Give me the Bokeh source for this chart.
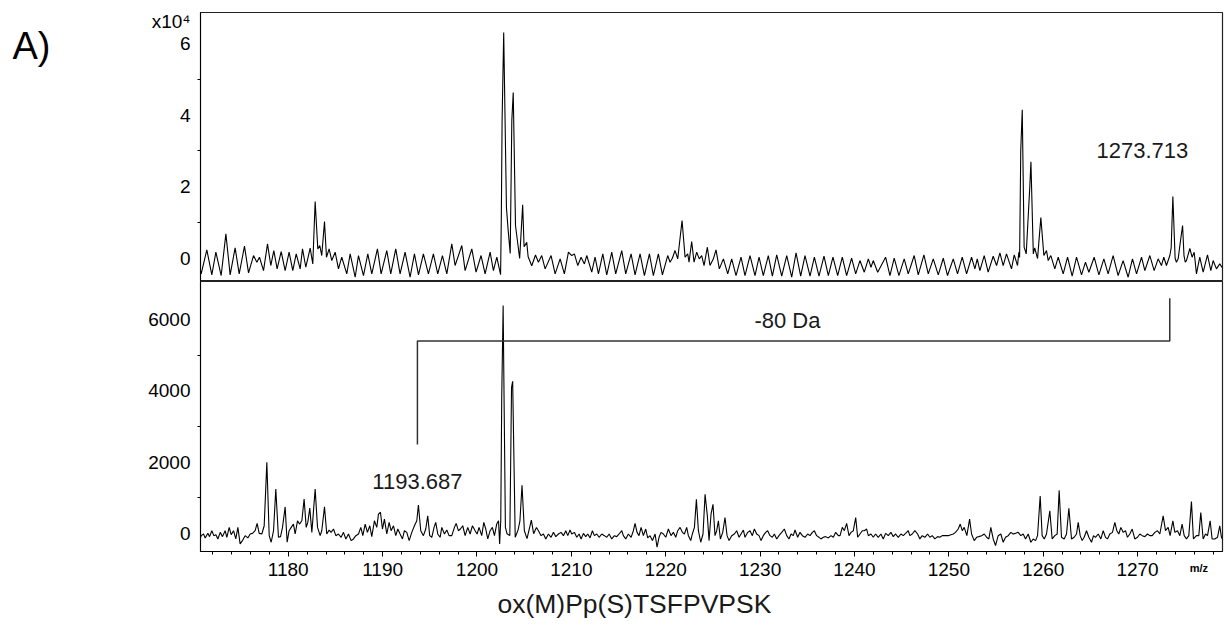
from bokeh.plotting import figure
from bokeh.layouts import column, row
from bokeh.models import FixedTicker, Label, Range1d
from bokeh.core.properties import value
from bokeh.embed import file_html
from bokeh.resources import INLINE

# ---------------- data ----------------
# upper spectrum (intensity in counts, axis shown in units of 1e4)
top_mz = [
    1170.72, 1170.77, 1171.37, 1171.90, 1172.33, 1172.89, 1173.39, 1173.84, 1174.37, 1174.80,
    1175.36, 1175.79, 1176.32, 1176.67, 1176.95, 1177.38, 1177.80, 1178.15, 1178.47, 1178.82,
    1179.25, 1179.67, 1180.09, 1180.48, 1180.84, 1181.26, 1181.51, 1181.86, 1182.32, 1182.60,
    1182.85, 1183.13, 1183.34, 1183.55, 1183.84, 1184.05, 1184.33, 1184.61, 1184.97, 1185.32,
    1185.67, 1186.20, 1186.56, 1187.09, 1187.44, 1187.97, 1188.43, 1188.85, 1189.45, 1189.84,
    1190.44, 1190.86, 1191.39, 1191.85, 1192.38, 1192.91, 1193.37, 1193.80, 1194.32, 1194.85,
    1195.38, 1195.84, 1196.34, 1196.80, 1197.33, 1197.68, 1198.39, 1198.74, 1199.45, 1199.90,
    1200.43, 1200.86, 1201.39, 1201.74, 1202.10, 1202.50,
    1202.58, 1202.66, 1202.83, 1203.12, 1203.30, 1203.52, 1203.69, 1203.84, 1204.08, 1204.32,
    1204.52, 1204.84, 1204.99, 1205.27, 1205.42, 1205.80, 1206.20,
    1206.51, 1206.86, 1207.22, 1207.85, 1208.28, 1208.81, 1209.26, 1209.69, 1210.04, 1210.32,
    1210.68, 1211.03, 1211.38, 1211.63, 1212.16, 1212.51, 1212.87, 1213.33, 1213.75, 1214.28,
    1214.70, 1215.34, 1215.76, 1216.33, 1216.75, 1217.28, 1217.74, 1218.27, 1218.69, 1219.22,
    1219.65, 1220.21, 1220.46, 1220.70, 1220.99, 1221.27, 1221.73, 1222.05, 1222.33, 1222.47,
    1222.75, 1223.00, 1223.28, 1223.56, 1223.81, 1224.06, 1224.41, 1224.69, 1225.05, 1225.33,
    1225.68, 1226.11, 1226.57, 1226.99, 1227.45, 1227.98, 1228.40, 1228.93, 1229.46, 1229.89,
    1230.34, 1230.87, 1231.30, 1231.76, 1232.29, 1232.82, 1233.35, 1233.81, 1234.30, 1234.76,
    1235.29, 1235.75, 1236.24, 1236.77, 1237.23, 1237.72, 1238.22, 1238.71, 1239.17, 1239.70,
    1240.13, 1240.58, 1241.04, 1241.47, 1241.75, 1241.99, 1242.46,
    1243.30, 1243.76, 1244.21, 1244.71, 1245.27, 1245.70, 1246.33, 1246.76, 1247.36, 1247.82,
    1248.35, 1248.88, 1249.41, 1249.86, 1250.47, 1250.92, 1251.42, 1251.88, 1252.41, 1252.76,
    1253.01, 1253.29, 1253.75, 1254.17, 1254.70, 1255.06, 1255.41, 1255.76, 1256.11, 1256.64,
    1256.93, 1257.28, 1257.42, 1257.50,
    1257.62, 1257.78, 1257.98, 1258.20, 1258.58, 1258.70, 1258.95, 1259.10, 1259.40, 1259.75,
    1260.07, 1260.35, 1260.53, 1260.81, 1261.23, 1261.59, 1262.12, 1262.58, 1263.07, 1263.53,
    1264.06, 1264.48, 1264.84, 1265.40, 1265.90, 1266.43, 1266.88, 1267.41, 1267.94, 1268.47,
    1269.00, 1269.46, 1269.89, 1270.42, 1270.77, 1271.30, 1271.76, 1272.18, 1272.53, 1272.78,
    1273.06, 1273.42, 1273.56, 1273.74, 1273.98, 1274.12, 1274.30, 1274.55, 1274.77, 1274.92,
    1275.05, 1275.18, 1275.54, 1275.78, 1276.00, 1276.24, 1276.59, 1276.95, 1277.41, 1277.76,
    1278.01, 1278.36, 1278.71, 1279.07,
]
top_int = [
    -3500, -4280, 2420, -4560, 1770, -4740, 6880, -4560, 2980, -4280,
    3440, -4000, 840, -1020, 370, -3350, 4090, -1950, 2230, -2880,
    1950, -3350, 1770, -3350, 1300, -2880, 2700, -2420, 2880, -1490,
    15900, 2700, 3630, 840, 10300, 370, 2700, -560, 1770, -2880,
    370, -4280, 1300, -5210, 840, -4740, 1300, -4280, 2700, -4280,
    2230, -4280, 2700, -4280, 1770, -5210, 1300, -4560, 1300, -4280,
    1300, -4280, 840, -4280, 4090, -1950, 3630, -3350, 2700, -3810,
    840, -4280, 1770, -3350, 370, -4500,
    12000, 38500, 63000, 14200, 8000, 1400, 38500, 46300, 9200, 4200,
    0, 15000, 3300, 4500, 500, -2000, 1000,
    -1020, 840, -2880, 840, -4280, -90, -4280, 1770, 840, 1300,
    -1950, 370, -1490, 840, -3810, 370, -4280, 1300, -4560, 1770,
    -4280, 2230, -4280, 1300, -4560, 1300, -4740, 1300, -4740, 1300,
    -4560, 840, -1020, 90, 2230, -90, 10600, 370, 1300, -1020,
    4740, -1020, 1770, -90, 840, -1950, 3160, -1950, -90, 2420,
    -2880, -90, -4280, -90, -4740, 370, -4740, 840, -4740, 370,
    -4740, 840, -4930, 1020, -4930, 840, -5210, 1580, -4930, 840,
    -4930, 370, -4930, 650, -4740, 370, -4740, 370, -4740, 90,
    -4280, -560, -3810, -90, -2420, -560, -3810,
    370, -4740, 90, -4740, -90, -4280, 840, -4560, 1020, -4280,
    -90, -4560, 90, -4740, -90, -4280, 370, -4280, 370, -2880,
    -90, -3350, 840, -3810, 650, -1950, 1580, -1950, 1300, -2880,
    1020, -1950, 1770, 300,
    30000, 41500, 3200, 1300, 20000, 27000, 1300, 3000, 0, 11400,
    840, 2230, -560, 840, -2880, 370, -4280, 370, -4930, 370,
    -4560, -1020, -3810, 370, -4560, -90, -4280, 840, -4740, -560,
    -5210, -90, -4280, 370, -3350, 840, -3350, -90, -1950, 370,
    -1950, 840, 3000, 17300, 0, -1020, -90, 5000, 9200, 800,
    -1020, -560, 2800, 370, 1770, -4280, 370, -3810, 1020, -3350,
    -560, -2880, -1490, -2880,
]

# lower spectrum (counts)
bot_mz = [
    1170.72, 1170.77, 1171.02, 1171.20, 1171.48, 1171.66, 1171.90, 1172.11, 1172.33, 1172.54,
    1172.79, 1173.03, 1173.31, 1173.49, 1173.74, 1173.95, 1174.20, 1174.44, 1174.66, 1174.90,
    1175.15, 1175.43, 1175.72, 1175.96, 1176.21, 1176.49, 1176.70, 1176.92, 1177.20, 1177.45,
    1177.73, 1177.98, 1178.19, 1178.44, 1178.68, 1178.96, 1179.18, 1179.39, 1179.67, 1179.88,
    1180.09, 1180.31, 1180.55, 1180.73, 1180.98, 1181.19, 1181.44, 1181.68, 1181.90, 1182.07,
    1182.28, 1182.50, 1182.85, 1183.10, 1183.38, 1183.55, 1183.84, 1184.08, 1184.33, 1184.54,
    1184.79, 1185.04, 1185.32, 1185.60, 1185.85, 1186.10, 1186.38, 1186.66, 1186.91, 1187.16,
    1187.44, 1187.69, 1187.90, 1188.15, 1188.39, 1188.64, 1188.85, 1189.13, 1189.38, 1189.56,
    1189.77, 1189.98, 1190.19, 1190.44, 1190.69, 1190.90, 1191.15, 1191.39, 1191.61, 1191.85,
    1192.10, 1192.31, 1192.56, 1192.81, 1193.09, 1193.37, 1193.62, 1193.79, 1194.04, 1194.32,
    1194.57, 1194.78, 1194.99, 1195.21, 1195.45, 1195.63, 1195.84, 1196.09, 1196.27, 1196.55,
    1196.80, 1197.04, 1197.33, 1197.61, 1197.79, 1198.03, 1198.24, 1198.49, 1198.74, 1199.02,
    1199.27, 1199.52, 1199.80, 1200.01, 1200.22, 1200.50, 1200.72, 1200.93, 1201.14, 1201.39,
    1201.63, 1201.85, 1202.09, 1202.28, 1202.40,
    1202.52, 1202.62, 1202.77, 1202.88, 1203.01, 1203.18, 1203.48, 1203.66, 1203.78, 1203.92,
    1204.05, 1204.35, 1204.55, 1204.77, 1205.02, 1205.30, 1205.76, 1206.00, 1206.30,
    1206.51, 1206.79, 1207.04, 1207.29, 1207.57, 1207.85, 1208.10, 1208.35, 1208.63, 1208.91,
    1209.16, 1209.41, 1209.62, 1209.86, 1210.04, 1210.32, 1210.57, 1210.82, 1211.03, 1211.28,
    1211.52, 1211.74, 1211.98, 1212.23, 1212.44, 1212.69, 1212.94, 1213.22, 1213.50, 1213.75,
    1214.00, 1214.28, 1214.56, 1214.81, 1215.06, 1215.34, 1215.51, 1215.76, 1216.04, 1216.33,
    1216.57, 1216.75, 1216.96, 1217.17, 1217.39, 1217.63, 1217.88, 1218.09, 1218.34, 1218.59,
    1218.87, 1219.08, 1219.29, 1219.50, 1219.75, 1220.00, 1220.28, 1220.56, 1220.81, 1221.06,
    1221.27, 1221.52, 1221.76, 1221.98, 1222.22, 1222.40, 1222.65, 1222.82, 1223.04, 1223.25,
    1223.46, 1223.71, 1223.95, 1224.17, 1224.41, 1224.59, 1224.80, 1225.01, 1225.22, 1225.40,
    1225.58, 1225.79, 1226.04, 1226.28, 1226.50, 1226.71, 1226.99, 1227.27, 1227.52, 1227.77,
    1227.98, 1228.23, 1228.40, 1228.69, 1228.93, 1229.18, 1229.39, 1229.64, 1229.89, 1230.10,
    1230.34, 1230.59, 1230.80, 1231.05, 1231.30, 1231.51, 1231.76, 1232.00, 1232.29, 1232.57,
    1232.82, 1233.06, 1233.28, 1233.52, 1233.70, 1233.98, 1234.23, 1234.48, 1234.76, 1235.04,
    1235.29, 1235.54, 1235.75, 1235.99, 1236.24, 1236.45, 1236.70, 1236.95, 1237.23, 1237.51,
    1237.76, 1238.01, 1238.29, 1238.47, 1238.71, 1238.93, 1239.17, 1239.42, 1239.63, 1239.88,
    1240.13, 1240.34, 1240.58, 1240.83, 1241.04, 1241.29, 1241.47, 1241.75, 1241.99, 1242.24,
    1242.52, 1242.80, 1243.05, 1243.30, 1243.58, 1243.86, 1244.11, 1244.36, 1244.64, 1244.92,
    1245.17, 1245.42, 1245.70, 1245.87, 1246.12, 1246.40, 1246.69, 1246.93, 1247.18, 1247.46,
    1247.75, 1247.99, 1248.24, 1248.52, 1248.81, 1249.05, 1249.30, 1249.58, 1249.94, 1250.22,
    1250.47, 1250.71, 1250.99, 1251.21, 1251.42, 1251.63, 1251.91, 1252.20, 1252.41, 1252.69,
    1252.94, 1253.18, 1253.47, 1253.75, 1254.00, 1254.24, 1254.45, 1254.70, 1254.95, 1255.23,
    1255.51, 1255.76, 1256.01, 1256.29, 1256.57, 1256.82, 1257.07, 1257.35, 1257.63, 1257.88,
    1258.13, 1258.41, 1258.69, 1258.94, 1259.19, 1259.40, 1259.68, 1259.89, 1260.11, 1260.35,
    1260.70, 1260.95, 1261.23, 1261.48, 1261.69, 1261.94, 1262.22, 1262.47, 1262.72, 1263.00,
    1263.28, 1263.53, 1263.71, 1263.92, 1264.13, 1264.34, 1264.59, 1264.84, 1265.12, 1265.33,
    1265.54, 1265.83, 1266.11, 1266.36, 1266.60, 1266.81, 1267.06, 1267.34, 1267.59, 1267.80,
    1268.01, 1268.23, 1268.47, 1268.72, 1268.93, 1269.18, 1269.43, 1269.71, 1269.99, 1270.24,
    1270.49, 1270.77, 1271.05, 1271.30, 1271.55, 1271.83, 1272.11, 1272.36, 1272.71, 1272.96,
    1273.24, 1273.45, 1273.74, 1273.95, 1274.23, 1274.48, 1274.72, 1274.94, 1275.18, 1275.43,
    1275.71, 1275.92, 1276.24, 1276.49, 1276.70, 1276.95, 1277.20, 1277.41, 1277.69, 1277.90,
    1278.18, 1278.47, 1278.71, 1278.89, 1279.07,
]
bot_int = [
    -100, -56, -9, -120, 9, -83, 83, -56, -28, -148,
    37, -83, 83, -102, 176, -28, 83, -148, 176, -287,
    -194, -56, -120, -9, 9, 83, 287, 9, -9, 222,
    2000, -56, -241, 83, 1250, -102, -83, 176, 750, -241,
    83, 176, 269, -9, 361, 269, 361, 970, 176, 315,
    720, 37, 1250, 176, -56, 83, 750, -9, 102, 37,
    130, -56, -9, -102, 37, -148, -9, -194, -148, -56,
    -9, 176, -56, 269, 37, 222, -83, 361, 176, 546,
    600, 130, 407, -9, 315, 83, 222, -56, 130, -9,
    -148, 83, 37, -194, 37, 222, 361, 800, 83, -56,
    130, 500, -56, -102, 176, 315, -9, -102, 176, -9,
    102, -56, -56, 176, 287, 83, 130, 222, -56, 176,
    -9, 222, 83, -9, 176, -56, 315, 130, -148, 83,
    176, -56, 269, 361, -287,
    400, 3800, 6400, 3500, 175, 0, -50, 4100, 4270, 2000,
    -100, 100, 361, 1360, 83, -139, 380, 0, 175,
    83, -56, -9, -148, -9, -102, 37, -83, -9, 37,
    -56, 83, -56, 102, -9, 37, -102, -9, -148, 9,
    -83, -9, -120, 83, -56, -9, -102, -9, -56, -102,
    -9, -148, -56, -83, -9, 83, -56, -148, -9, -102,
    83, 287, 37, -56, 176, -56, 130, -120, -56, -194,
    -9, -380, -102, 37, -9, -102, 130, -56, 37, -102,
    83, 176, 37, -9, 176, -56, -194, -9, 176, 963,
    83, -241, -9, 1102, 500, -194, 546, 824, -56, 83,
    361, -148, 37, 454, -56, -194, -56, -9, 83, -102,
    -9, 102, -102, 37, 83, -56, 130, -9, -56, -194,
    -56, 37, 83, -56, -102, -9, -148, -56, 37, 130,
    -56, -148, -9, -56, 102, -102, 37, -56, -102, -9,
    -56, 37, 83, -56, -102, -148, -102, -83, -120, -56,
    -102, 37, -56, -56, 176, 83, 287, -56, 37, 83,
    454, -102, -9, 83, 83, 130, -56, -9, -102, -9,
    -102, -9, -148, 9, -56, 37, -83, -9, -102, -9,
    -56, 9, 83, -56, -9, 83, -9, -148, -56, -102,
    -9, -102, -56, -148, -83, -102, -56, -56, -56, -28,
    -9, 37, 130, 269, 83, 176, -56, 407, -9, -194,
    -102, -83, -56, -9, -102, -148, 176, -148, -333, -56,
    -9, -241, -102, -56, 37, -9, 9, 37, -56, -9,
    -148, -9, -241, -148, -194, -56, 1056, -56, -148, -9,
    639, -148, -56, -9, 1213, -102, -148, -9, 713, -148,
    -102, -9, 315, -56, -194, -102, 83, -102, -241, -56,
    -102, -9, -148, 83, -102, -148, -9, 37, 315, 83,
    -9, 176, 37, 83, -102, -9, 130, -148, -102, -9,
    -56, -83, -9, -56, -56, 37, 83, -9, 500, 83,
    176, -56, 361, 37, 83, -56, 269, -56, -148, -56,
    898, -148, -56, -56, 593, -148, -9, -56, 361, -148,
    -148, -102, 222, -102, -194,
]

x_ticks = [1180, 1190, 1200, 1210, 1220, 1230, 1240, 1250, 1260, 1270]
x_minor = [1172, 1174, 1176, 1178, 1182, 1184, 1186, 1188, 1192, 1194, 1196, 1198,
           1202, 1204, 1206, 1208, 1212, 1214, 1216, 1218, 1222, 1224, 1226, 1228,
           1232, 1234, 1236, 1238, 1242, 1244, 1246, 1248, 1252, 1254, 1256, 1258,
           1262, 1264, 1266, 1268, 1272, 1274, 1276, 1278]
top_ticks = [0, 20000, 40000, 60000, 66200]
top_tick_labels = ["0", "2", "4", "6", "x10\u2074"]
top_minor = [10000, 30000, 50000]
bot_ticks = [0, 2000, 4000, 6000]
bot_tick_labels = ["0", "2000", "4000", "6000"]
bot_minor = [1000, 3000, 5000]

peak_hi_mz, peak_hi_label = 1273.713, "1273.713"
peak_lo_mz, peak_lo_label = 1193.687, "1193.687"
shift_label = "-80 Da"
peptide = "ox(M)Pp(S)TSFPVPSK"
panel_label = "A)"
x_unit = "m/z"

# ---------------- figure ----------------
FONT = "Liberation Sans"
INK = "#1a1a1a"
GUTTER = 140
MAIN_W = 1225 - GUTTER
xr = Range1d(1170.7, 1279.0)


def style(p):
    p.xgrid.visible = False
    p.ygrid.visible = False
    p.outline_line_color = "#222222"
    p.outline_line_width = 1.2
    p.background_fill_color = "white"
    p.border_fill_color = "white"
    for ax in p.yaxis:
        ax.axis_line_color = "black"
        ax.major_tick_line_color = "black"
        ax.minor_tick_line_color = "black"
        ax.major_tick_in = 0
        ax.major_tick_out = 0
        ax.minor_tick_in = 0
        ax.minor_tick_out = 3
        ax.major_label_text_font = FONT
        ax.major_label_text_font_size = "19px"
        ax.major_label_text_color = "black"
        ax.major_label_standoff = 7


def note(p, x, y, text, size, align="center", color=INK):
    p.add_layout(Label(x=x, y=y, text=text, text_align=align, text_baseline="middle",
                       text_font=FONT, text_font_size=size, text_color=color))


def blank(w, h, xr_, yr_):
    f = figure(width=w, height=h, x_range=xr_, y_range=yr_, output_backend="svg",
               toolbar_location=None, x_axis_location=None, y_axis_location=None,
               min_border=0)
    f.outline_line_color = None
    f.xgrid.visible = False
    f.ygrid.visible = False
    f.background_fill_color = "white"
    f.border_fill_color = "white"
    return f


# upper spectrum
top = figure(width=MAIN_W, height=281, x_range=xr, y_range=Range1d(-6400, 68600),
             output_backend="svg", toolbar_location=None, x_axis_location=None,
             min_border_left=200 - GUTTER, min_border_right=3, min_border_top=12,
             min_border_bottom=0)
style(top)
top.yaxis[0].ticker = FixedTicker(ticks=top_ticks, minor_ticks=top_minor)
top.yaxis[0].major_label_overrides = dict(zip(top_ticks, top_tick_labels))
top.line(top_mz, top_int, line_color="black", line_width=1.1)
note(top, peak_hi_mz - 3.2, 30100, peak_hi_label, "22px")

# lower spectrum
B = 38
bot = figure(width=MAIN_W, height=270 + B, x_range=xr, y_range=Range1d(-500, 7070),
             output_backend="svg", toolbar_location=None,
             min_border_left=200 - GUTTER, min_border_right=3, min_border_top=0,
             min_border_bottom=B)
style(bot)
bot.yaxis[0].ticker = FixedTicker(ticks=bot_ticks, minor_ticks=bot_minor)
bot.yaxis[0].major_label_overrides = dict(zip(bot_ticks, bot_tick_labels))
xa = bot.xaxis[0]
xa.ticker = FixedTicker(ticks=x_ticks, minor_ticks=x_minor)
xa.axis_line_color = "black"
xa.major_tick_line_color = "black"
xa.minor_tick_line_color = "black"
xa.major_tick_in = 0
xa.major_tick_out = 5
xa.minor_tick_in = 0
xa.minor_tick_out = 3
xa.major_label_text_font = FONT
xa.major_label_text_font_size = "19px"
xa.major_label_text_color = "black"
xa.major_label_standoff = 6
xa.axis_label_text_font = FONT
xa.axis_label_text_font_size = "11px"
xa.axis_label_text_font_style = "bold"
xa.axis_label_text_color = "black"
xa.axis_label_standoff = -17
# the axis label is centred on the axis; pad it so "m/z" sits at the right end
xa.axis_label = "\u00a0" * 319 + x_unit

bot.line(bot_mz, bot_int, line_color="black", line_width=1.1)
bot.line([peak_lo_mz, peak_lo_mz, peak_hi_mz - 0.3, peak_hi_mz - 0.3],
         [2500, 5400, 5400, 6600], line_color="#333333", line_width=1.5)
note(bot, peak_lo_mz, 1450, peak_lo_label, "22px")
note(bot, 1232.9, 5970, shift_label, "22px")

# band under the axis, holding the peptide name (frame aligned with the spectra)
band_h = 625 - 281 - 270 - B
band = blank(MAIN_W, band_h, xr, Range1d(625, 625 - band_h))
band.text(x=[1202.17], y=[603], text=[peptide], text_font=value(FONT),
          text_font_size="26.5px", text_align="left", text_baseline="middle",
          text_color=INK)

# left gutter holding the panel letter
gutter = blank(GUTTER, 625, Range1d(0, GUTTER), Range1d(625, 0))
gutter.text(x=[12], y=[45], text=[panel_label], text_font=value(FONT),
            text_font_size="38px", text_align="left", text_baseline="middle",
            text_color="black")

layout = row(gutter, column(top, bot, band, spacing=0), spacing=0)
open("out.html", "w").write(file_html(layout, INLINE))
